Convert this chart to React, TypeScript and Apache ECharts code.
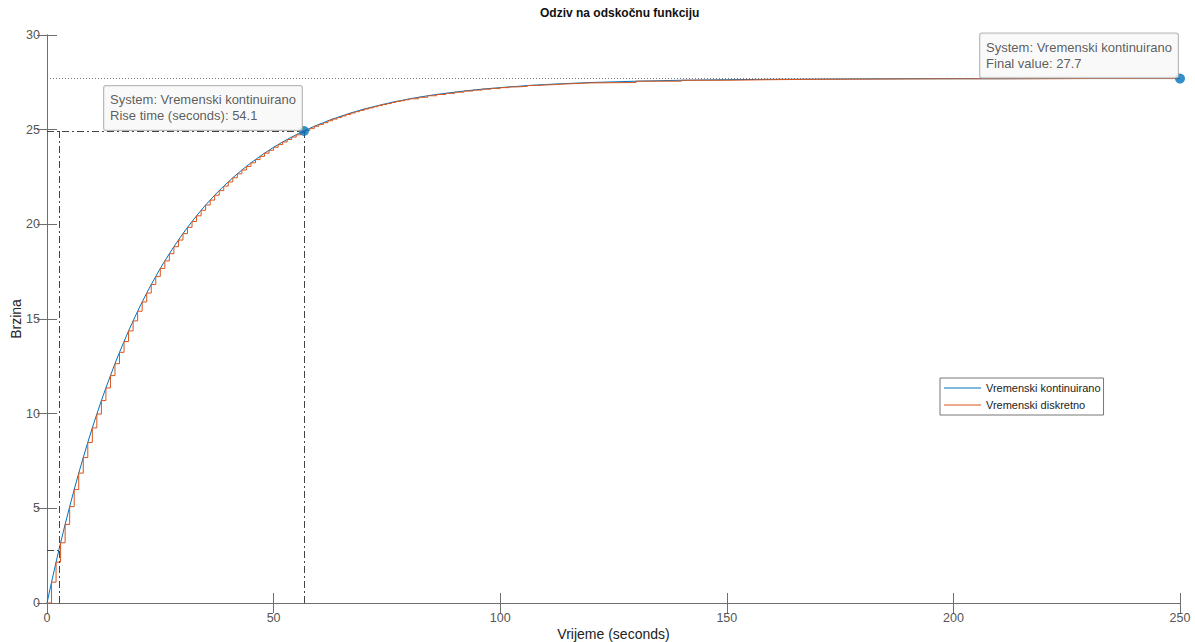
import React, { useEffect, useRef } from "react";
import * as echarts from "echarts";

// Sample times (seconds) and response values
const sampleTimes: number[] = [
  0, 1, 2, 3, 4, 5, 6, 7, 8, 9, 10, 11, 12, 13, 14, 15, 16, 17, 18, 19, 20,
  21, 22, 23, 24, 25, 26, 27, 28, 29, 30, 31, 32, 33, 34, 35, 36, 37, 38, 39, 40,
  41, 42, 43, 44, 45, 46, 47, 48, 49, 50, 51, 52, 53, 54, 55, 56, 57, 58, 59, 60,
  61, 62, 63, 64, 65, 66, 67, 68, 69, 70, 71, 72, 73, 74, 75, 76, 77, 78, 79, 80,
  82, 84, 86, 88, 90, 92, 94, 96, 98, 100, 102, 104, 106, 108, 110, 112, 114, 116, 118, 120,
  130, 140, 150, 160, 170, 180, 190, 200, 210, 220, 230, 240, 250,
];
const speedValues: number[] = [
  0, 1.10, 2.16, 3.18, 4.15, 5.09, 5.99, 6.86, 7.68, 8.48, 9.25,
  9.98, 10.69, 11.36, 12.01, 12.64, 13.24, 13.81, 14.37, 14.90, 15.41,
  15.90, 16.37, 16.82, 17.25, 17.67, 18.07, 18.45, 18.82, 19.17, 19.51,
  19.84, 20.15, 20.45, 20.74, 21.02, 21.28, 21.54, 21.78, 22.02, 22.24,
  22.46, 22.67, 22.87, 23.06, 23.25, 23.42, 23.59, 23.76, 23.91, 24.07,
  24.21, 24.35, 24.48, 24.61, 24.73, 24.85, 24.96, 25.07, 25.18, 25.28,
  25.37, 25.47, 25.56, 25.64, 25.72, 25.80, 25.88, 25.95, 26.02, 26.09,
  26.15, 26.21, 26.27, 26.33, 26.38, 26.44, 26.49, 26.53, 26.58, 26.63,
  26.71, 26.79, 26.86, 26.92, 26.98, 27.04, 27.09, 27.14, 27.18, 27.22,
  27.26, 27.29, 27.33, 27.36, 27.38, 27.41, 27.43, 27.45, 27.47, 27.49,
  27.56, 27.61, 27.64, 27.66, 27.67, 27.68, 27.69, 27.69, 27.69, 27.70, 27.70, 27.70, 27.70,
];

const seriesNames: string[] = ["Vremenski kontinuirano", "Vremenski diskretno"];
const xTicks = { min: 0, max: 250, interval: 50 };
const yTicks = { min: 0, max: 30, interval: 5 };

// Annotation values
const riseStart = 2.6;
const riseEnd = 56.7;
const riseTime = 54.1;
const lowLevel = 2.77;
const highLevel = 24.93;
const finalValue = 27.7;
const finalTime = 250;

const FONT = "'Liberation Sans', Arial, Helvetica, sans-serif";

export default function App() {
  const ref = useRef<HTMLDivElement>(null);

  useEffect(() => {
    if (!ref.current) return;
    const chart = echarts.init(ref.current, null, { renderer: "svg" });

    const pairs = sampleTimes.map((t, i) => [t, speedValues[i]]);
    const dashDot = [7, 3, 2, 3];

    const tipLabel = (line1: string, line2: string) => ({
      show: true,
      formatter: "{t|" + line1 + "}\n{t|" + line2 + "}",
      position: [3, 4],
      align: "right",
      verticalAlign: "bottom",
      backgroundColor: "#f8f8f8",
      borderColor: "#a8a8a8",
      borderWidth: 1,
      borderRadius: 2,
      padding: [6, 6, 6, 6],
      rich: {
        t: {
          align: "left",
          fontSize: 13,
          lineHeight: 16,
          color: "#333",
          fontFamily: FONT,
        },
      },
    });

    const axisCommon = {
      axisLine: { show: true, lineStyle: { color: "#6e6e6e", width: 1 } },
      axisTick: { show: true, inside: true, length: 10, lineStyle: { color: "#6e6e6e" } },
      splitLine: { show: false },
    };

    chart.setOption({
      animation: false,
      backgroundColor: "#ffffff",
      title: {
        text: "Odziv na odskočnu funkciju",
        left: 535,
        top: 2,
        textStyle: { fontSize: 12, fontWeight: "bold", color: "#111", fontFamily: FONT },
      },
      grid: {
        left: 47,
        right: 15,
        top: 35,
        bottom: 39,
        containLabel: false,
        outerBoundsMode: "none",
      },
      legend: {
        data: seriesNames.map((n) => ({ name: n, icon: "rect" })),
        orient: "vertical",
        left: 940,
        top: 378,
        backgroundColor: "#ffffff",
        borderColor: "#777",
        borderWidth: 1,
        borderRadius: 0,
        padding: [4, 3, 4, 4],
        itemWidth: 37,
        itemHeight: 1.2,
        itemGap: 5,
        textStyle: { fontSize: 11, color: "#222", fontFamily: FONT, lineHeight: 12 },
      },
      xAxis: [
        {
          type: "value",
          ...xTicks,
          name: "Vrijeme (seconds)",
          nameLocation: "middle",
          nameGap: 24,
          nameMoveOverlap: false,
          nameTextStyle: { fontSize: 14, color: "#222", fontFamily: FONT },
          axisLabel: { color: "#555", fontSize: 12.5, margin: 8, fontFamily: FONT },
          ...axisCommon,
        },
        {
          type: "value",
          position: "top",
          ...xTicks,
          axisLabel: { show: false },
          ...axisCommon,
        },
      ],
      yAxis: [
        {
          type: "value",
          ...yTicks,
          name: "Brzina",
          nameLocation: "middle",
          nameGap: 24,
          nameMoveOverlap: false,
          nameTextStyle: { fontSize: 14, color: "#222", fontFamily: FONT },
          axisLabel: { color: "#555", fontSize: 12.5, margin: 7, fontFamily: FONT },
          ...axisCommon,
        },
        {
          type: "value",
          position: "right",
          ...yTicks,
          axisLabel: { show: false },
          ...axisCommon,
        },
      ],
      series: [
        {
          name: seriesNames[0],
          type: "line",
          data: pairs,
          symbol: "none",
          lineStyle: { color: "#0072BD", width: 1 },
          itemStyle: { color: "#0072BD" },
          z: 2,
          markLine: {
            silent: true,
            symbol: "none",
            label: { show: false },
            lineStyle: { color: "#444", width: 1, type: dashDot },
            data: [
              [{ coord: [0, lowLevel] }, { coord: [riseStart, lowLevel] }],
              [{ coord: [riseStart, 0] }, { coord: [riseStart, highLevel] }],
              [{ coord: [0, highLevel] }, { coord: [riseEnd, highLevel] }],
              [{ coord: [riseEnd, 0] }, { coord: [riseEnd, highLevel] }],
              [
                { coord: [0, finalValue], lineStyle: { type: [1, 2], color: "#777" } },
                { coord: [finalTime, finalValue] },
              ],
            ],
          },
        },
        {
          name: seriesNames[1],
          type: "line",
          step: "end",
          data: pairs,
          symbol: "none",
          lineStyle: { color: "#D95319", width: 1 },
          itemStyle: { color: "#D95319" },
          z: 3,
        },
        {
          name: "tips",
          type: "scatter",
          clip: false,
          symbolSize: 10,
          itemStyle: { color: "#0072BD" },
          z: 10,
          data: [
            {
              value: [riseEnd, highLevel],
              label: tipLabel(
                "System: Vremenski kontinuirano",
                "Rise time (seconds): " + riseTime.toFixed(1)
              ),
            },
            {
              value: [finalTime, finalValue],
              label: tipLabel(
                "System: Vremenski kontinuirano",
                "Final value: " + finalValue.toFixed(1)
              ),
            },
          ],
        },
      ],
    });

    return () => chart.dispose();
  }, []);

  return (
    <div
      ref={ref}
      style={{ position: "fixed", left: 0, top: 0, width: 1195, height: 642, background: "#fff" }}
    />
  );
}
